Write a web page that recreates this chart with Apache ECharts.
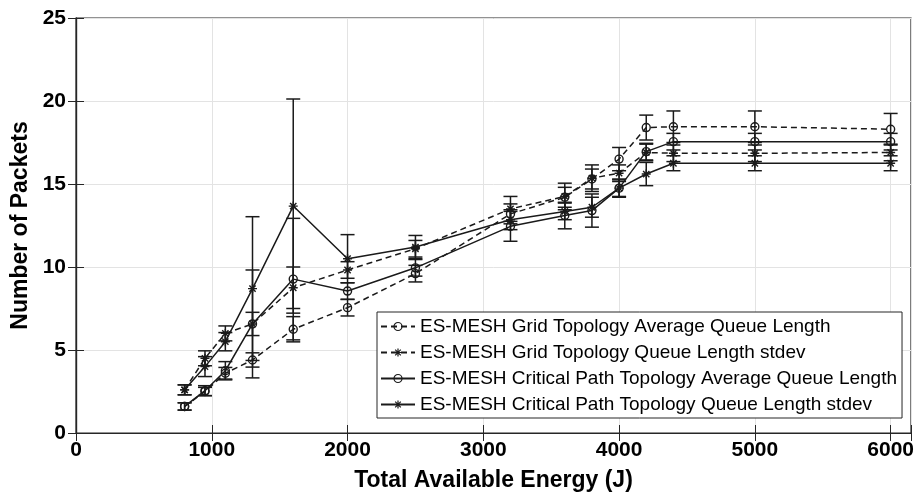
<!DOCTYPE html>
<html>
<head>
<meta charset="utf-8">
<script src="https://cdn.jsdelivr.net/npm/echarts@6/dist/echarts.min.js"></script>
<style>html,body{margin:0;padding:0;background:#fff;}#c{width:915px;height:494px;}</style>
</head>
<body>
<div id="c"></div>
<script>
// ---- data ----
const energy = [800, 950, 1100, 1300, 1600, 2000, 2500, 3200, 3600, 3800, 4000, 4200, 4400, 5000, 6000];

const gridAvg     = [1.6, 2.5, 3.6, 4.4, 6.25, 7.55, 9.6, 13.2, 14.2, 15.3, 16.5, 18.4, 18.45, 18.45, 18.3];
const gridAvgErr  = [0.22, 0.25, 0.35, 0.43, 0.76, 0.5, 0.5, 0.6, 0.6, 0.6, 0.7, 0.75, 0.95, 0.95, 0.95];

const gridStd     = [2.6, 4.5, 6.0, 6.57, 8.75, 9.82, 11.1, 13.5, 14.25, 15.35, 15.65, 16.9, 16.85, 16.85, 16.9];
const gridStdErr  = [0.3, 0.45, 0.45, 3.25, 1.25, 0.5, 0.5, 0.75, 0.8, 0.8, 0.5, 0.5, 0.5, 0.5, 0.5];

const critAvg     = [1.6, 2.55, 3.75, 6.57, 9.27, 8.55, 9.95, 12.45, 13.1, 13.4, 14.75, 16.95, 17.55, 17.55, 17.55];
const critAvgErr  = [0.22, 0.3, 0.55, 0.7, 3.66, 0.5, 0.5, 0.9, 0.8, 1.0, 0.55, 0.5, 0.5, 0.5, 0.5];

const critStd     = [2.6, 4.0, 5.5, 8.7, 13.67, 10.5, 11.2, 12.85, 13.35, 13.6, 14.75, 15.6, 16.25, 16.25, 16.25];
const critStdErr  = [0.3, 0.6, 0.55, 4.33, 6.45, 1.45, 0.7, 0.6, 0.5, 0.6, 0.5, 0.7, 0.45, 0.45, 0.45];

const seriesNames = [
  'ES-MESH Grid Topology Average Queue Length',
  'ES-MESH Grid Topology Queue Length stdev',
  'ES-MESH Critical Path Topology Average Queue Length',
  'ES-MESH Critical Path Topology Queue Length stdev'
];
const xTicks = [0, 1000, 2000, 3000, 4000, 5000, 6000];
const yTicks = [0, 5, 10, 15, 20, 25];

// ---- chart ----
const INK = '#1a1a1a';
const FONT = 'Liberation Sans, Arial, Helvetica, sans-serif';
const starPath = 'path://M5,0L5,10M0,5L10,5M1.5,1.5L8.5,8.5M1.5,8.5L8.5,1.5';

function pts(vals) { return energy.map((x, i) => [x, vals[i]]); }
function bars(vals, errs) { return energy.map((x, i) => [x, vals[i] - errs[i], vals[i] + errs[i]]); }

function renderErr(params, api) {
  const x = api.value(0), lo = api.value(1), hi = api.value(2);
  const a = api.coord([x, lo]), b = api.coord([x, hi]);
  const w = 7;
  const st = { stroke: INK, lineWidth: 1.5, fill: null };
  return {
    type: 'group',
    children: [
      { type: 'line', shape: { x1: a[0], y1: a[1], x2: b[0], y2: b[1] }, style: st },
      { type: 'line', shape: { x1: a[0] - w, y1: a[1], x2: a[0] + w, y2: a[1] }, style: st },
      { type: 'line', shape: { x1: b[0] - w, y1: b[1], x2: b[0] + w, y2: b[1] }, style: st }
    ]
  };
}

function lineSeries(name, vals, dashed, star) {
  return {
    name: name,
    type: 'line',
    data: pts(vals),
    z: 3,
    symbol: star ? starPath : 'circle',
    symbolSize: star ? 9 : 8,
    showAllSymbol: true,
    lineStyle: { color: INK, width: 1.5, type: dashed ? [6, 4] : 'solid' },
    itemStyle: { color: star ? INK : 'rgba(255,255,255,0)', borderColor: INK, borderWidth: 1.4 },
    emphasis: { disabled: true }
  };
}
function errSeries(vals, errs) {
  return {
    type: 'custom',
    renderItem: renderErr,
    data: bars(vals, errs),
    encode: { x: 0, y: [1, 2] },
    z: 2,
    silent: true
  };
}

const chart = echarts.init(document.getElementById('c'));
chart.setOption({
  animation: false,
  backgroundColor: '#fff',
  grid: { left: 76, right: 4, top: 18, bottom: 61, containLabel: false, outerBoundsMode: 'none',
          show: true, borderColor: '#262626', borderWidth: 1.2, backgroundColor: '#fff' },
  legend: {
    data: seriesNames,
    orient: 'vertical',
    left: 377, top: 312,
    itemWidth: 34, itemHeight: 10, itemGap: 7,
    padding: [5, 5, 4, 3],
    backgroundColor: '#fff',
    borderColor: '#262626', borderWidth: 1,
    textStyle: { fontSize: 19, color: '#000', fontFamily: FONT },
    itemStyle: { borderWidth: 1.2 }
  },
  xAxis: [{
    type: 'value', min: 0, max: 6150, interval: 1000,
    name: 'Total Available Energy (J)', nameLocation: 'middle', nameGap: 36,
    nameTextStyle: { fontSize: 23, fontWeight: 'bold', color: '#000', fontFamily: FONT },
    axisLine: { lineStyle: { color: '#262626', width: 1.2 } },
    axisTick: { inside: true, length: 8, lineStyle: { color: '#262626' } },
    axisLabel: { fontSize: 21, fontWeight: 'bold', color: '#000', fontFamily: FONT, margin: 7,
      formatter: v => xTicks.indexOf(v) >= 0 ? String(v) : '' },
    splitLine: { show: true, lineStyle: { color: '#e3e3e3', width: 1 } }
  }, {
    type: 'value', min: 0, max: 6150, interval: 1000, position: 'top',
    axisLine: { show: true, lineStyle: { color: '#262626', width: 1.2 } },
    axisTick: { inside: true, length: 8, lineStyle: { color: '#262626' } },
    axisLabel: { show: false }, splitLine: { show: false }
  }],
  yAxis: [{
    type: 'value', min: 0, max: 25, interval: 5,
    name: 'Number of Packets', nameLocation: 'middle', nameGap: 40,
    nameTextStyle: { fontSize: 23, fontWeight: 'bold', color: '#000', fontFamily: FONT },
    axisLine: { show: true, lineStyle: { color: '#262626', width: 1.2 } },
    axisTick: { show: true, inside: true, length: 8, lineStyle: { color: '#262626' } },
    axisLabel: { fontSize: 21, fontWeight: 'bold', color: '#000', fontFamily: FONT, margin: 10,
      formatter: v => yTicks.indexOf(v) >= 0 ? String(v) : '' },
    splitLine: { show: true, lineStyle: { color: '#e3e3e3', width: 1 } }
  }, {
    type: 'value', min: 0, max: 25, interval: 5, position: 'right',
    axisLine: { show: true, lineStyle: { color: '#262626', width: 1.2 } },
    axisTick: { show: true, inside: true, length: 8, lineStyle: { color: '#262626' } },
    axisLabel: { show: false }, splitLine: { show: false }
  }],
  series: [
    errSeries(gridAvg, gridAvgErr),
    errSeries(gridStd, gridStdErr),
    errSeries(critAvg, critAvgErr),
    errSeries(critStd, critStdErr),
    lineSeries(seriesNames[0], gridAvg, true, false),
    lineSeries(seriesNames[1], gridStd, true, true),
    lineSeries(seriesNames[2], critAvg, false, false),
    lineSeries(seriesNames[3], critStd, false, true)
  ]
});
</script>
</body>
</html>
